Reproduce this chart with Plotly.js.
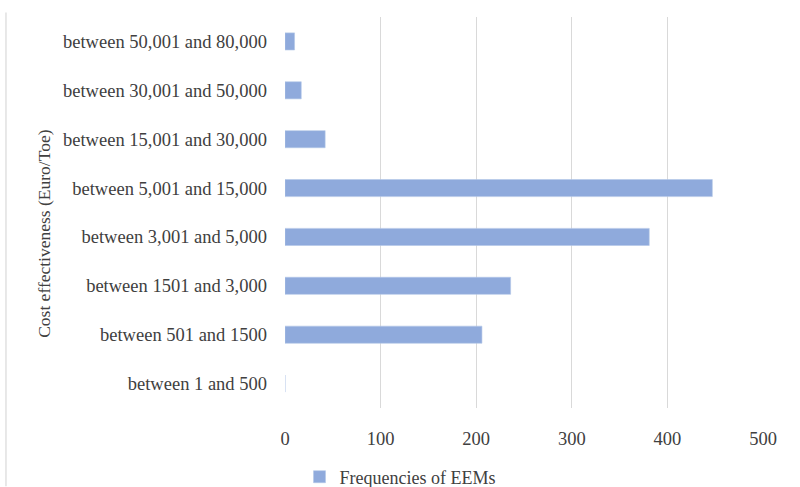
<!DOCTYPE html>
<html>
<head>
<meta charset="utf-8">
<script src="https://cdn.plot.ly/plotly-3.0.1.min.js"></script>
<style>
  html, body { margin: 0; padding: 0; background: #fff; }
  #chart { width: 800px; height: 487px; }
</style>
</head>
<body>
<div id="chart"></div>
<script>
// Cost-effectiveness classes (Euro/Toe), bottom to top
const categories = [
  "between 1 and 500",
  "between 501 and 1500",
  "between 1501 and 3,000",
  "between 3,001 and 5,000",
  "between 5,001 and 15,000",
  "between 15,001 and 30,000",
  "between 30,001 and 50,000",
  "between 50,001 and 80,000"
];

// Number of energy efficiency measures in each class
const frequencies = [0, 206, 236, 381, 447, 42, 17, 10];

const xTicks = [0, 100, 200, 300, 400, 500];

const seriesName = "Frequencies of EEMs";
const yTitle = "Cost effectiveness (Euro/Toe)";

const font = "'Liberation Serif', 'DejaVu Serif', serif";
const textColor = "#404040";

// plot area geometry in pixels
const M = { l: 284.5, r: 36.7, t: 16.5, b: 78.5 };
const plotW = 800 - M.l - M.r;
const plotH = 487 - M.t - M.b;

const trace = {
  type: "bar",
  orientation: "h",
  y: categories,
  x: frequencies,
  name: seriesName,
  marker: { color: "#8faadc", line: { color: "#b4c7e7", width: 0.6 } },
  showlegend: true,
  hoverinfo: "x+y"
};

const layout = {
  width: 800,
  height: 487,
  paper_bgcolor: "#ffffff",
  plot_bgcolor: "#ffffff",
  margin: { l: M.l, r: M.r, t: M.t, b: M.b, pad: 0, autoexpand: false },
  bargap: 0.65,
  font: { family: font, size: 18.5, color: textColor },
  xaxis: {
    range: [0, 500],
    tickvals: xTicks,
    ticktext: xTicks.map(String),
    showgrid: true,
    gridcolor: "#d9d9d9",
    gridwidth: 1.3,
    zeroline: false,
    showline: false,
    ticks: "",
    ticklabelstandoff: 17,
    tickfont: { family: font, size: 18.5, color: textColor },
    fixedrange: true
  },
  yaxis: {
    type: "category",
    categoryorder: "array",
    categoryarray: categories,
    showgrid: false,
    zeroline: false,
    showline: false,
    ticks: "",
    ticklabelstandoff: 17,
    tickfont: { family: font, size: 18.5, color: textColor },
    automargin: false,
    fixedrange: true
  },
  // vertical axis title beside the category labels
  annotations: [
    {
      text: yTitle,
      xref: "paper", yref: "paper",
      x: (43 - M.l) / plotW, y: (487 - M.b - 233) / plotH,
      xanchor: "center", yanchor: "middle",
      textangle: -90,
      showarrow: false,
      font: { family: font, size: 17.5, color: textColor }
    }
  ],
  legend: {
    orientation: "h",
    xref: "container",
    yref: "container",
    x: 0.5,
    xanchor: "center",
    y: (487 - 477) / 487,
    yanchor: "middle",
    font: { family: font, size: 18, color: textColor },
    itemwidth: 30,
    bgcolor: "rgba(0,0,0,0)"
  },
  shapes: [
    {
      type: "line",
      xref: "paper", yref: "paper",
      x0: (5 - M.l) / plotW, x1: (5 - M.l) / plotW,
      y0: (487 - M.b - 12) / plotH, y1: -M.b / plotH,
      line: { color: "#d9d9d9", width: 1.2 }
    }
  ]
};

Plotly.newPlot("chart", [trace], layout, { displayModeBar: false, staticPlot: true });
</script>
</body>
</html>
